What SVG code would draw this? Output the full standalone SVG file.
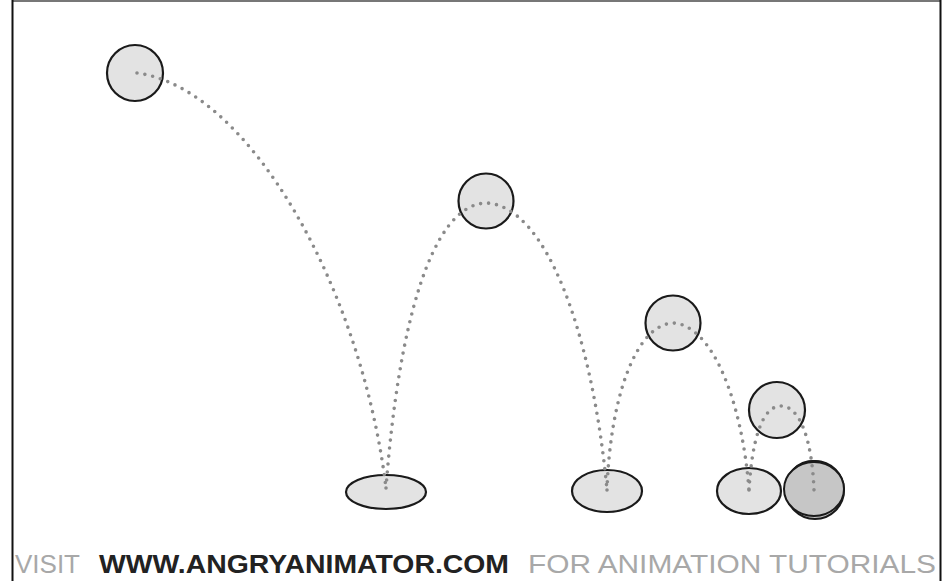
<svg xmlns="http://www.w3.org/2000/svg" width="942" height="581" viewBox="0 0 942 581">
<style>
.ball{fill:#e3e3e3;stroke:#1a1a1a;stroke-width:2.2}
.last{fill:#c6c6c6;stroke:#1a1a1a;stroke-width:2}
.path{fill:none;stroke:#8a8a8a;stroke-width:3.6;stroke-linecap:round;stroke-dasharray:0 8}
.lbl{font-family:"Liberation Sans",Arial,sans-serif;font-size:26px}
.light{fill:#a8a8a8}
.dark{fill:#222;font-weight:bold}
</style>
<rect x="0" y="0" width="942" height="581" fill="#fff"/>
<g id="frame">
<line x1="12" y1="1" x2="941" y2="1" stroke="#777" stroke-width="2"/>
<line x1="12.5" y1="0" x2="12.5" y2="581" stroke="#111" stroke-width="2"/>
<line x1="940.5" y1="0" x2="940.5" y2="581" stroke="#111" stroke-width="2"/>
</g>
<g id="ball1"><circle class="ball" cx="135" cy="73" r="28"/></g>
<g id="ball2"><circle class="ball" cx="486" cy="201" r="27.5"/></g>
<g id="ball3"><circle class="ball" cx="673" cy="323" r="27.5"/></g>
<g id="ball4"><circle class="ball" cx="777" cy="410" r="28"/></g>
<g id="squash1"><ellipse class="ball" cx="386" cy="492" rx="40" ry="17"/></g>
<g id="squash2"><ellipse class="ball" cx="607" cy="491" rx="35" ry="21"/></g>
<g id="squash3"><ellipse class="ball" cx="749" cy="491" rx="32" ry="23"/></g>
<g id="rest">
<circle class="last" cx="815" cy="490" r="29"/>
<circle class="last" cx="813" cy="488" r="27" fill="none"/>
<ellipse class="last" cx="814" cy="489" rx="30" ry="27" fill="none"/>
</g>
<g id="connectors">
<path class="path" d="M137,73 C250,88 362,290 386,488"/>
<path class="path" d="M386,488 C398,330 430,205 486,203 C545,205 592,330 607,490"/>
<path class="path" d="M607,490 C610,400 635,325 673,323 C712,325 742,400 749,490"/>
<path class="path" d="M749,490 C752,440 762,406 781,406 C800,406 812,440 814,490"/>
</g>
<g id="caption">
<text class="lbl" y="573"><tspan class="light" x="15" textLength="65" lengthAdjust="spacingAndGlyphs">VISIT</tspan><tspan class="dark" x="99" textLength="410" lengthAdjust="spacingAndGlyphs">WWW.ANGRYANIMATOR.COM</tspan><tspan class="light" x="528" textLength="408" lengthAdjust="spacingAndGlyphs">FOR ANIMATION TUTORIALS</tspan></text>
</g>
</svg>
